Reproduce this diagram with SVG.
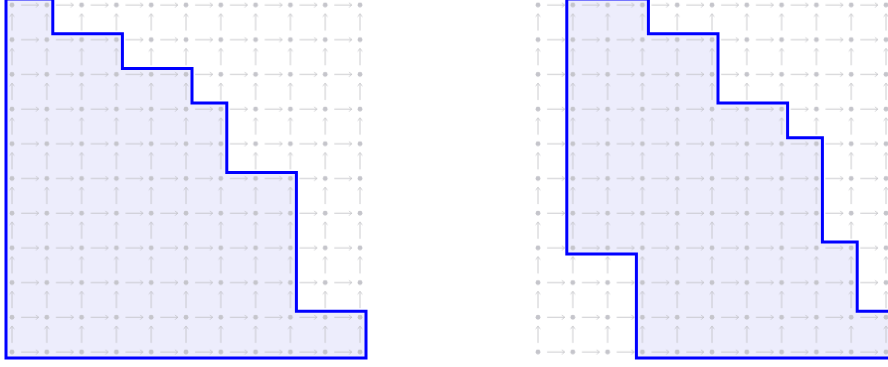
<svg xmlns="http://www.w3.org/2000/svg" width="888" height="367" viewBox="0 0 888 367">
<style>
.fill{fill:#ededfc;stroke:none}
.edge{fill:none;stroke:#0000ff;stroke-width:3;stroke-linejoin:miter}
.arr{fill:none;stroke:#bdbdc2;stroke-width:0.8;stroke-linecap:round}
.dot{fill:#c5c5cb}
</style>
<defs>
<pattern id="grid" patternUnits="userSpaceOnUse" x="9" y="-26" width="34.8" height="34.7">
<circle class="dot" cx="3" cy="31" r="2.4"/>
<path class="arr" d="M12.5,31 H29.5 M27.2,28.9 Q28.6,30.4 29.5,31 Q28.6,31.6 27.2,33.1"/>
<path class="arr" d="M3,21.5 V5.3 M0.9,7.6 Q2.4,6.2 3,5.3 Q3.6,6.2 5.1,7.6"/>
</pattern>
</defs>
<rect width="888" height="367" fill="#ffffff"/>
<g id="left-panel">
<polygon class="fill" points="6,-1 52.8,-1 52.8,33.7 122.4,33.7 122.4,68.4 192,68.4 192,103.1 226.8,103.1 226.8,172.5 296.4,172.5 296.4,311.3 366,311.3 366,358 6,358"/>
<rect x="9" y="0" width="357" height="356" fill="url(#grid)"/>
<polygon class="edge" points="6,-1 52.8,-1 52.8,33.7 122.4,33.7 122.4,68.4 192,68.4 192,103.1 226.8,103.1 226.8,172.5 296.4,172.5 296.4,311.3 366,311.3 366,358 6,358"/>
</g>
<g id="right-panel">
<polygon class="fill" points="566.8,-1 648.4,-1 648.4,33.7 718,33.7 718,103.1 787.6,103.1 787.6,137.8 822.4,137.8 822.4,241.9 857.2,241.9 857.2,311.3 892,311.3 892,358 636.4,358 636.4,253.9 566.8,253.9"/>
<g transform="translate(526,0)">
<rect x="9" y="0" width="357" height="356" fill="url(#grid)"/>
</g>
<polygon class="edge" points="566.8,-1 648.4,-1 648.4,33.7 718,33.7 718,103.1 787.6,103.1 787.6,137.8 822.4,137.8 822.4,241.9 857.2,241.9 857.2,311.3 892,311.3 892,358 636.4,358 636.4,253.9 566.8,253.9"/>
</g>
</svg>
